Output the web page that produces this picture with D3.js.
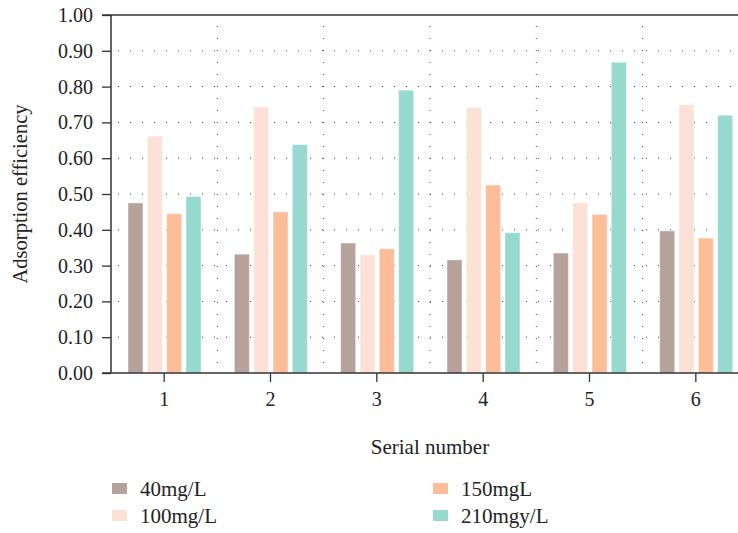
<!DOCTYPE html>
<html><head><meta charset="utf-8">
<script src="https://cdn.jsdelivr.net/npm/d3@7"></script>
<style>body{margin:0;background:#fff}svg{display:block}svg text{font-family:"Liberation Serif","DejaVu Serif",serif !important;fill:#222}</style>
</head><body>
<svg id="c" width="738" height="533"></svg>
<script>
const categories = ["1","2","3","4","5","6"];
const seriesNames = ["40mg/L","100mg/L","150mgL","210mgy/L"];
const s40  = [0.475,0.332,0.363,0.316,0.335,0.397];
const s100 = [0.662,0.743,0.330,0.742,0.475,0.749];
const s150 = [0.445,0.450,0.347,0.525,0.443,0.377];
const s210 = [0.493,0.638,0.790,0.392,0.868,0.720];
const yTicks = [0,0.1,0.2,0.3,0.4,0.5,0.6,0.7,0.8,0.9,1.0];
const colors = ["#b6a29b","#fde0d6","#fdbd98","#96d9ce"];

const series = [s40,s100,s150,s210];
const svg = d3.select("#c");
const L = 111, R = 749, T = 15, B = 373;
const FONT = "Liberation Serif, DejaVu Serif, serif";
const x0 = d3.scaleBand().domain(categories).range([L,R]);
const x1 = d3.scaleBand().domain(seriesNames).range([17,90]).paddingInner(0.223);
const y = d3.scaleLinear().domain([0,1]).range([B,T]);

// grid
const g = svg.append("g");
g.selectAll(".hg").data(yTicks.filter(d=>d>0&&d<1)).join("line")
  .attr("x1",L).attr("x2",R).attr("y1",d=>y(d)).attr("y2",d=>y(d))
  .attr("stroke","#444").attr("stroke-width",1).attr("stroke-dasharray","1,11").attr("stroke-dashoffset",-7);
g.selectAll(".vg").data(categories.slice(1)).join("line")
  .attr("x1",d=>x0(d)).attr("x2",d=>x0(d)).attr("y1",T).attr("y2",B)
  .attr("stroke","#444").attr("stroke-width",1).attr("stroke-dasharray","1,11").attr("stroke-dashoffset",-11);

// bars
const grp = svg.append("g").selectAll("g").data(categories).join("g")
  .attr("transform",d=>`translate(${x0(d)},0)`);
grp.selectAll("rect").data((d,i)=>seriesNames.map((s,j)=>({s,j,v:series[j][i]}))).join("rect")
  .attr("x",d=>x1(d.s)).attr("width",x1.bandwidth())
  .attr("y",d=>y(d.v)).attr("height",d=>B-y(d.v))
  .attr("fill",d=>colors[d.j]).attr("stroke","#fff").attr("stroke-opacity",0.45).attr("stroke-width",1);

// axes
const ya = svg.append("g").attr("transform",`translate(${L},0)`)
  .call(d3.axisLeft(y).tickValues(yTicks).tickFormat(d3.format(".2f")).tickSize(9).tickPadding(9))
  .attr("font-family",FONT).attr("font-size",20);
ya.select(".domain").remove();
ya.selectAll("line").attr("stroke","#333").attr("stroke-width",1.3);
ya.selectAll("text").attr("fill","#222");
const xa = svg.append("g").attr("transform",`translate(0,${B})`)
  .call(d3.axisBottom(x0).tickSize(9).tickPadding(10))
  .attr("font-family",FONT).attr("font-size",20);
xa.select(".domain").remove();
xa.selectAll("line").attr("stroke","#333").attr("stroke-width",1.3);
xa.selectAll("text").attr("fill","#222");

svg.append("line").attr("x1",L).attr("x2",L).attr("y1",T).attr("y2",B).attr("stroke","#333").attr("stroke-width",1.5);
svg.append("line").attr("x1",L-9).attr("x2",R).attr("y1",B).attr("y2",B).attr("stroke","#333").attr("stroke-width",1.5);
svg.append("line").attr("x1",L-9).attr("x2",R).attr("y1",T).attr("y2",T).attr("stroke","#333").attr("stroke-width",1.5);

svg.append("text").attr("x",(L+R)/2).attr("y",454).attr("text-anchor","middle").attr("font-size",21).text("Serial number");
svg.append("text").attr("transform",`translate(27,${(T+B)/2}) rotate(-90)`).attr("text-anchor","middle").attr("font-size",20.5).text("Adsorption efficiency");

// legend
const lpos = [[112,483],[112,510],[433,483],[433,510]];
const lg = svg.append("g").selectAll("g").data(seriesNames).join("g")
  .attr("transform",(d,i)=>`translate(${lpos[i][0]},${lpos[i][1]})`);
lg.append("rect").attr("width",15).attr("height",11).attr("fill",(d,i)=>colors[i]);
lg.append("text").attr("x",28).attr("y",13).attr("font-size",21).text(d=>d);
</script>
</body></html>
